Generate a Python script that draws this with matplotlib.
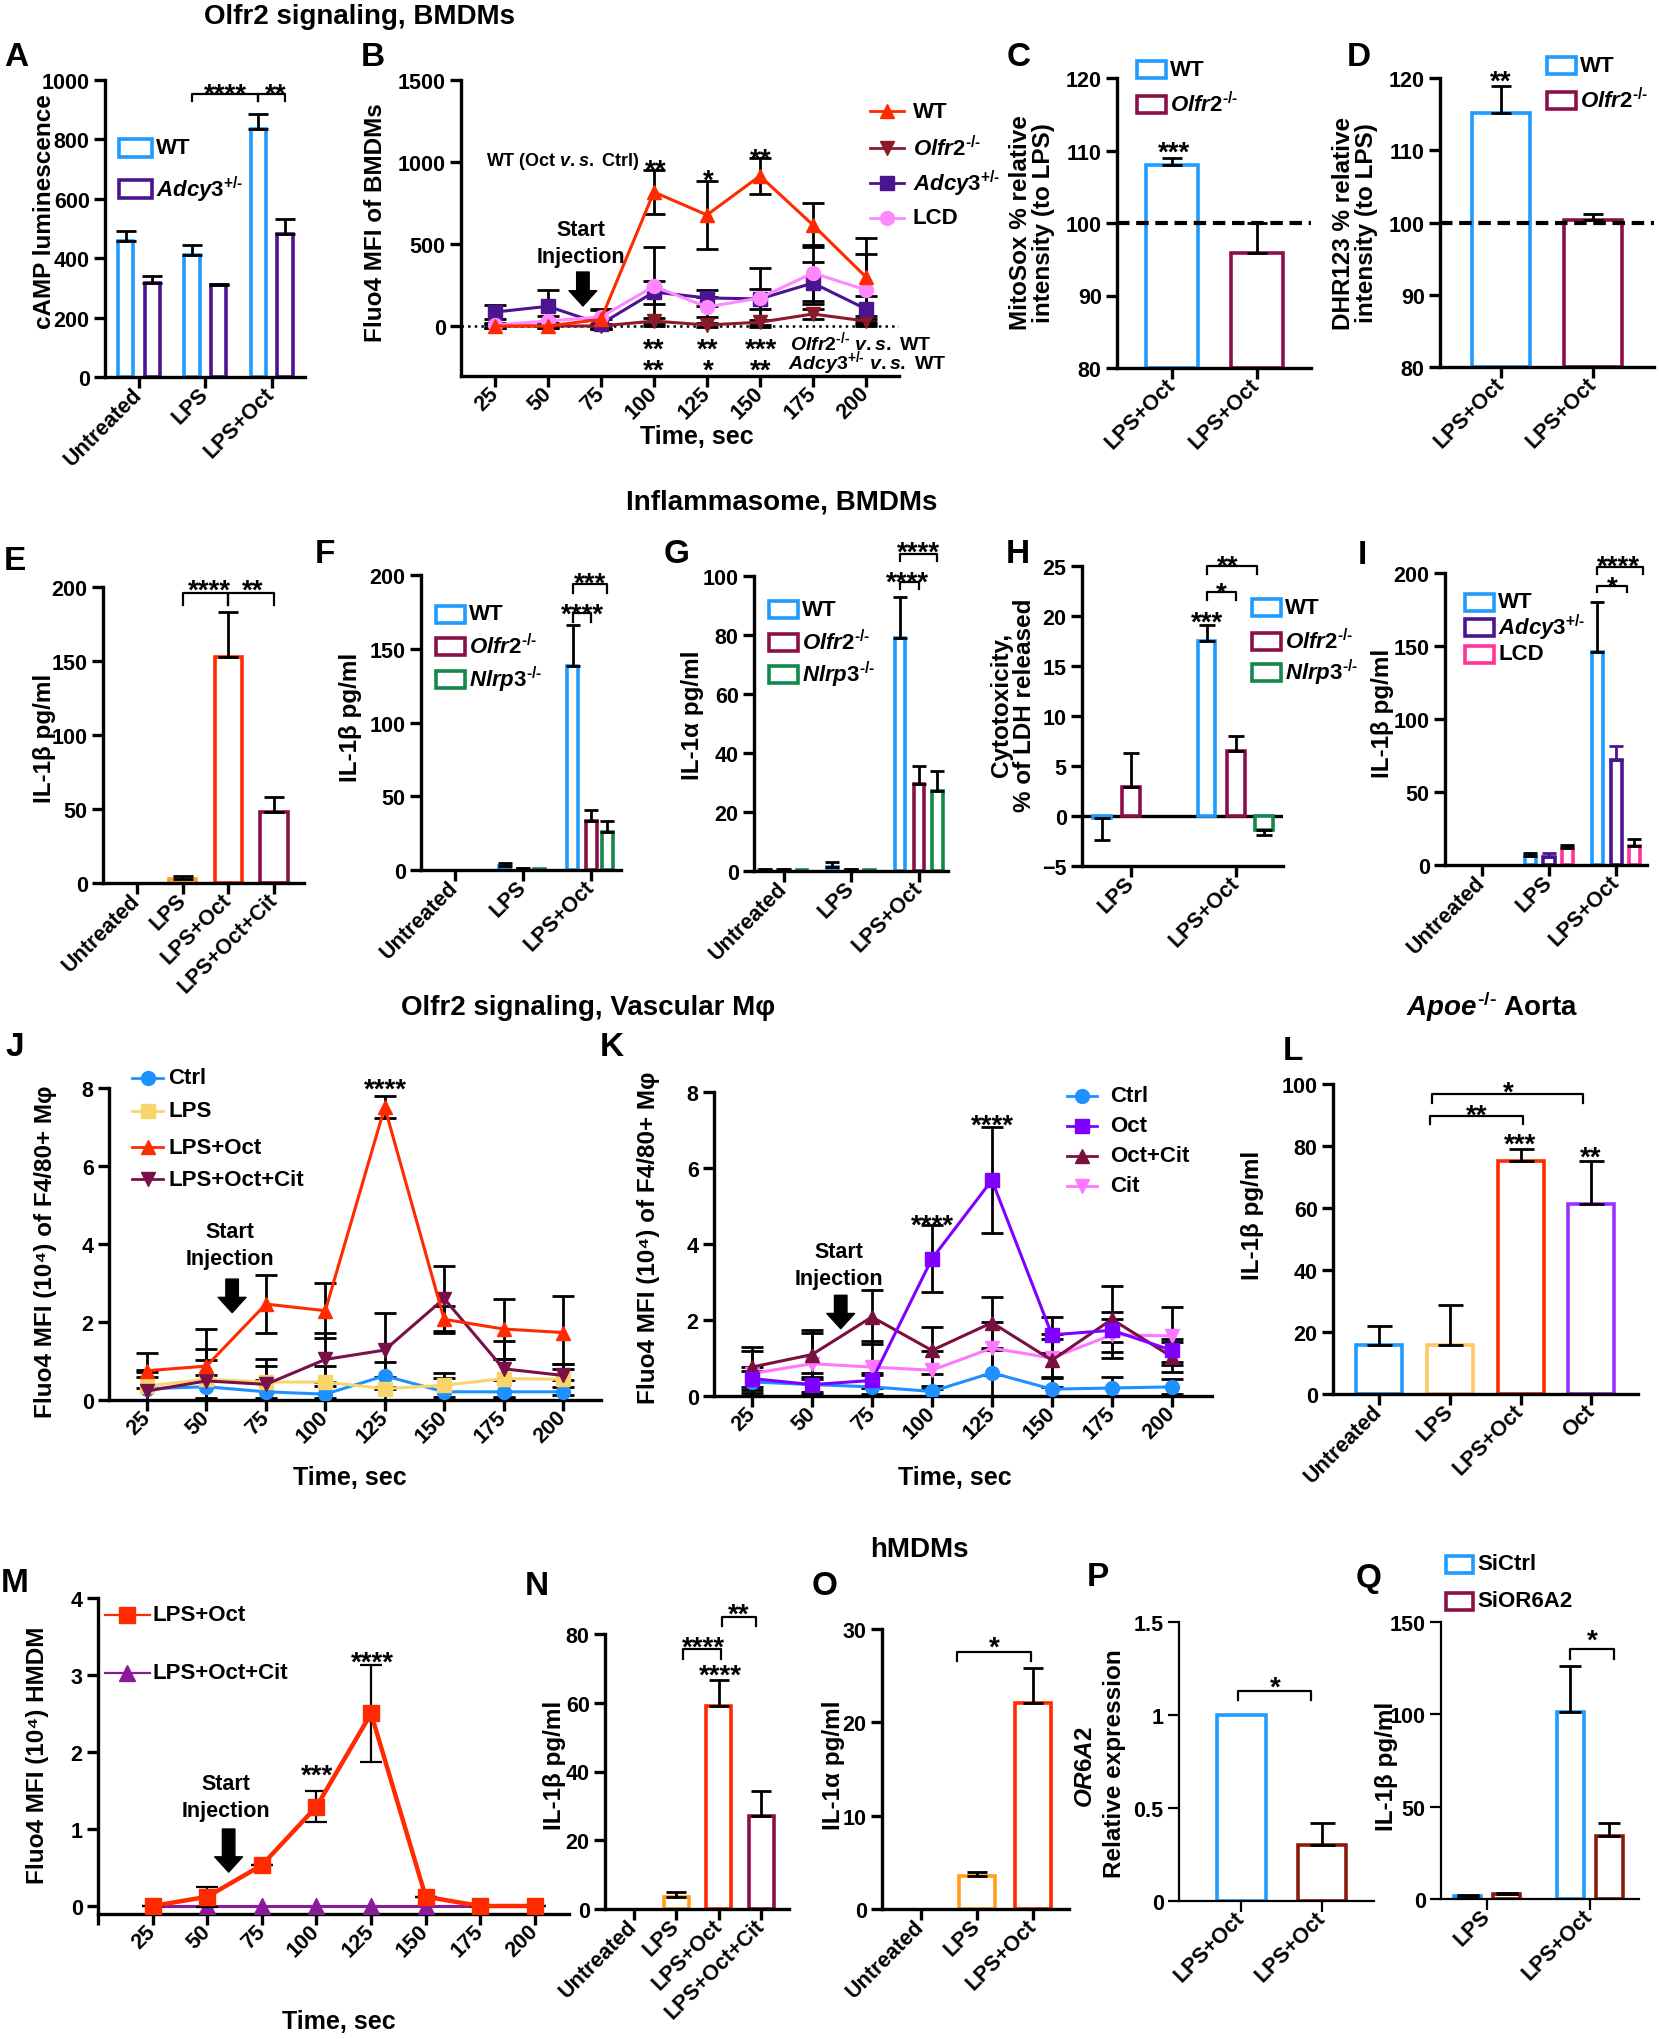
#!/usr/bin/env python3
"""Olfr2 signalling / inflammasome multi-panel figure, rebuilt with matplotlib."""
import matplotlib
import matplotlib.pyplot as plt
from matplotlib.lines import Line2D
from matplotlib.patches import Rectangle

matplotlib.use("Agg")

W, H = 1659, 2040

plt.rcParams.update({
    "font.family": ["Liberation Sans", "DejaVu Sans"],
    "font.weight": "bold",
    "axes.labelweight": "bold",
    "mathtext.fontset": "custom",
    "mathtext.rm": "Liberation Sans:bold",
    "mathtext.it": "Liberation Sans:italic:bold",
    "mathtext.bf": "Liberation Sans:bold",
    "mathtext.default": "regular",
})

# ---------------- data ----------------
TIME = [25, 50, 75, 100, 125, 150, 175, 200]

# A: cAMP luminescence
a_groups = ["Untreated", "LPS", "LPS+Oct"]
a_wt = [458, 411, 835]
a_wt_err = [33, 33, 51]
a_adcy3 = [316, 310, 481]
a_adcy3_err = [24, 4, 51]

# B: Fluo4 MFI of BMDMs
b_wt = [0, 0, 40, 817, 677, 915, 616, 299]
b_wt_err = [15, 15, 60, 134, 207, 109, 134, 238]
b_olfr2 = [0, 0, 0, 30, 6, 23, 73, 30]
b_olfr2_err = [10, 10, 10, 20, 15, 15, 30, 15]
b_adcy3 = [85, 120, 12, 207, 171, 165, 262, 104]
b_adcy3_err = [40, 100, 30, 70, 50, 60, 130, 80]
b_lcd = [6, 30, 55, 242, 116, 171, 323, 220]
b_lcd_err = [10, 30, 50, 240, 60, 180, 170, 220]

# C, D: MitoSox / DHR123 relative to LPS
c_vals = [108.0, 95.8]
c_errs = [1.0, 4.2]
d_vals = [115.2, 100.3]
d_errs = [3.7, 0.9]

# E: IL-1b, BMDMs
e_groups = ["Untreated", "LPS", "LPS+Oct", "LPS+Oct+Cit"]
e_vals = [0, 2.5, 153, 48]
e_errs = [0, 2.5, 30, 10]

# F: IL-1b by genotype
f_wt = [0, 3, 138]
f_wt_err = [0, 2, 28]
f_olfr2 = [0, 1, 33]
f_olfr2_err = [0, 0.5, 8]
f_nlrp3 = [0, 0.5, 26]
f_nlrp3_err = [0, 0, 7]

# G: IL-1a by genotype
g_wt = [0.5, 1.5, 79]
g_wt_err = [0.3, 1.5, 14]
g_olfr2 = [0.5, 0.5, 29.5]
g_olfr2_err = [0.3, 0.3, 6]
g_nlrp3 = [0.3, 0.3, 27]
g_nlrp3_err = [0, 0, 7]

# H: LDH cytotoxicity
h_groups = ["LPS", "LPS+Oct"]
h_wt = [-0.2, 17.5]
h_wt_err = [2.2, 1.6]
h_olfr2 = [2.9, 6.5]
h_olfr2_err = [3.4, 1.5]
h_nlrp3 = [0, -1.4]
h_nlrp3_err = [0, 0.5]

# I: IL-1b WT / Adcy3 / LCD
i_wt = [0, 6.2, 146]
i_wt_err = [0, 2.3, 34]
i_adcy3 = [0, 5.5, 72]
i_adcy3_err = [0, 2.5, 9.5]
i_lcd = [0, 11.4, 13]
i_lcd_err = [0, 2.6, 4.8]

# J: vascular macrophages
j_ctrl = [0.29, 0.34, 0.21, 0.15, 0.62, 0.21, 0.21, 0.21]
j_ctrl_err = [0.3, 0.3, 0.3, 0.3, 0.35, 0.35, 0.3, 0.3]
j_lps = [0.36, 0.53, 0.46, 0.46, 0.29, 0.38, 0.55, 0.53]
j_lps_err = [0.4, 0.5, 0.4, 0.4, 0.3, 0.3, 0.5, 0.4]
j_lpsoct = [0.75, 0.87, 2.46, 2.29, 7.51, 2.07, 1.82, 1.73]
j_lpsoct_err = [0.45, 0.96, 0.74, 0.7, 0.28, 0.35, 0.78, 0.94]
j_cit = [0.23, 0.49, 0.40, 1.04, 1.28, 2.60, 0.80, 0.63]
j_cit_err = [0.5, 0.83, 0.64, 0.67, 0.95, 0.83, 0.72, 0.3]

# K: vascular macrophages, Oct alone
k_ctrl = [0.37, 0.30, 0.24, 0.12, 0.61, 0.18, 0.21, 0.24]
k_ctrl_err = [0.3, 0.3, 0.3, 0.15, 0.6, 0.3, 0.3, 0.2]
k_oct = [0.46, 0.30, 0.41, 3.61, 5.68, 1.61, 1.73, 1.20]
k_oct_err = [0.3, 0.2, 0.2, 0.88, 1.4, 0.47, 0.3, 0.3]
k_octcit = [0.76, 1.09, 2.08, 1.20, 1.93, 0.94, 2.02, 1.03]
k_octcit_err = [0.53, 0.64, 0.7, 0.62, 0.67, 0.7, 0.87, 0.4]
k_cit = [0.59, 0.85, 0.76, 0.68, 1.26, 1.00, 1.61, 1.58]
k_cit_err = [0.6, 0.8, 0.7, 0.5, 0.7, 0.5, 0.6, 0.76]

# L: Apoe-/- aorta
l_groups = ["Untreated", "LPS", "LPS+Oct", "Oct"]
l_vals = [15.8, 15.8, 75.3, 61.3]
l_errs = [6.0, 12.9, 3.7, 14.0]

# M: human MDMs
m_lpsoct = [0, 0.12, 0.53, 1.29, 2.5, 0.12, 0, 0]
m_lpsoct_err = [0, 0.13, 0, 0.2, 0.63, 0, 0, 0]
m_cit = [0, 0, 0, 0, 0, 0, 0, 0]

# N, O: hMDM cytokines
n_vals = [0, 3.4, 59.2, 27.2]
n_errs = [0, 1.6, 7.4, 7.2]
o_groups = ["Untreated", "LPS", "LPS+Oct"]
o_vals = [0, 3.5, 22.1]
o_errs = [0, 0.5, 3.7]

# P: OR6A2 knockdown, Q: IL-1b after knockdown
p_vals = [1.0, 0.3]
p_errs = [0, 0.12]
q_groups = ["LPS", "LPS+Oct"]
q_sictrl = [1.8, 101]
q_sictrl_err = [0.5, 25]
q_sior = [2.5, 34]
q_sior_err = [0.5, 7.2]

# ---------------- styling ----------------
BLUE = "#1E9BFF"
PURPLE = "#4B1490"
MAROON = "#8B1048"
GREEN = "#14884A"
PINK = "#FF3399"
ORANGE = "#FF9F1C"
RED = "#FF2A00"
LIGHT_ORANGE = "#FFC864"
VIOLET = "#9B30FF"
DARK_RED = "#8C1A0A"

SPINE = 2.4
BAR_LW = 2.6
TICK = 15.5
YLAB = 17.5
HY = "\u2010"  # plain hyphen, so superscripts stay narrow
KO = "^{" + HY + "/" + HY + "}"
HET = "^{+/" + HY + "}"
OLFR2 = "$\\mathit{Olfr2}" + KO + "$"
ADCY3 = "$\\mathit{Adcy3}" + HET + "$"
NLRP3 = "$\\mathit{Nlrp3}" + KO + "$"
APOE = "$\\mathit{Apoe}" + KO + "$"

fig = plt.figure(figsize=(W / 100, H / 100), dpi=100)


def ftext(x, y, s, size=15, ha="center", va="center", **kw):
    fig.text(x / W, 1 - y / H, s, fontsize=size, ha=ha, va=va, **kw)


def stars(x, y, s, size=20):
    # asterisks sit high in the line box; shift so their ink centres on y
    ftext(x, y + 0.31 * size * 100 / 72, s, size=size)


def letter(x, y, s):
    ftext(x, y, s, size=24)


def ylab(x, y, s, size=YLAB, **kw):
    ftext(x, y, s, size=size, rotation=90, linespacing=1.0, **kw)


def key_box(x, y, color, label, w=29, h=17):
    fig.add_artist(Rectangle((x / W, 1 - (y + h / 2) / H), w / W, h / H,
                             transform=fig.transFigure, facecolor="white",
                             edgecolor=color, linewidth=2.6))
    ftext(x + w + 4, y, label, size=16, ha="left")


def key_line(x0, x1, y, color, marker, label, tx, lw=2.0, ms=10):
    fig.add_artist(Line2D([x0 / W, x1 / W], [1 - y / H, 1 - y / H],
                          transform=fig.transFigure, color=color, lw=lw))
    fig.add_artist(Line2D([(x0 + x1) / 2 / W], [1 - y / H], transform=fig.transFigure,
                          color=color, marker=marker, ms=ms, lw=0))
    ftext(tx, y, label, size=16, ha="left")


def make_ax(x0, x1, ytop, ybot, xlim, ylim, spine=SPINE):
    ax = fig.add_axes([x0 / W, 1 - ybot / H, (x1 - x0) / W, (ybot - ytop) / H])
    ax.set_xlim(*xlim)
    ax.set_ylim(*ylim)
    ax.spines[["top", "right"]].set_visible(False)
    ax.spines[["left", "bottom"]].set_linewidth(spine)
    ax.tick_params(width=spine, length=8, labelsize=TICK, pad=3)
    ax.tick_params(axis="x", pad=2)
    ax.patch.set_visible(False)
    return ax


def xlabels(ax, ticks, labels):
    ax.set_xticks(ticks)
    ax.set_xticklabels(labels, rotation=45, ha="right", va="center",
                       rotation_mode="anchor")


def bars(ax, xs, vals, errs, colors, width, bottom=0, ecolor="k", cap=7):
    for x, v, e, c in zip(xs, vals, errs, colors):
        if v == 0:
            continue
        ax.bar(x, v - bottom, width, bottom=bottom, facecolor="white", edgecolor=c,
               linewidth=BAR_LW, zorder=2)
        if e:
            yerr = [[0], [e]] if v >= 0 else [[e], [0]]
            ax.errorbar(x, v, yerr=yerr, fmt="none", ecolor=ecolor, elinewidth=2.0,
                        capsize=cap, capthick=2.0, zorder=3)


def bracket(ax, x1, x2, y, drop, lw=1.6):
    ax.plot([x1, x1, x2, x2], [y - drop, y, y, y - drop], color="k", lw=lw,
            clip_on=False, zorder=4)


def series(ax, y, err, color, marker, lw=2.2, ms=10):
    ax.errorbar(TIME, y, yerr=err, color=color, marker=marker, ms=ms, lw=lw,
                mec=color, mfc=color, ecolor="k", elinewidth=2.0, capsize=8,
                capthick=2.0, zorder=3)


def inject_arrow(ax, x, y0, y1):
    ax.annotate("", xy=(x, y1), xytext=(x, y0),
                arrowprops=dict(facecolor="k", edgecolor="k", width=9,
                                headwidth=20, headlength=11, shrink=0))


# ================= Row 1: Olfr2 signalling, BMDMs =================
ftext(359, 17, "Olfr2 signaling, BMDMs", size=20)

# A
ax = make_ax(105, 305, 81, 378, (-0.51, 2.5), (0, 1000))
ax.set_yticks(range(0, 1001, 200))
bars(ax, [g - 0.2 for g in range(3)], a_wt, a_wt_err, [BLUE] * 3, 0.23)
bars(ax, [g + 0.2 for g in range(3)], a_adcy3, a_adcy3_err, [PURPLE] * 3, 0.23)
xlabels(ax, range(3), a_groups)
bracket(ax, 0.8, 1.8, 953, 24)
bracket(ax, 1.8, 2.2, 953, 24)
stars(225, 87, "****")
stars(276, 87, "**")
key_box(119, 149, BLUE, "WT", w=33, h=18)
key_box(119, 190, PURPLE, ADCY3, w=33, h=18)
ylab(45, 212, "cAMP luminescence")
letter(16, 58, "A")

# B
ax = make_ax(461, 899, 81, 377, (9, 215.6), (-305, 1500))
ax.set_yticks([0, 500, 1000, 1500])
xlabels(ax, TIME, [str(t) for t in TIME])
ax.axhline(0, color="k", ls=":", lw=1.8, zorder=1)
series(ax, b_olfr2, b_olfr2_err, "#8B1A2A", "v")
series(ax, b_adcy3, b_adcy3_err, PURPLE, "s")
series(ax, b_lcd, b_lcd_err, "#FF88FF", "o")
series(ax, b_wt, b_wt_err, RED, "^")
inject_arrow(ax, 66.5, 329, 122)
ftext(486, 162, r"WT (Oct $\mathit{v.s.}$ Ctrl)", size=13, ha="left")
stars(656, 163, "**")
stars(708, 173, "*")
stars(761, 152, "**")
for x, s1, s2 in [(654, "**", "**"), (708, "**", "*"), (761, "***", "**")]:
    stars(x, 342, s1)
    stars(x, 363, s2)
ftext(790, 342, OLFR2 + r" $\mathit{v.s.}$ WT", size=14, ha="left")
ftext(788, 363, ADCY3 + r" $\mathit{v.s.}$ WT", size=14, ha="left")
ftext(581, 230, "Start", size=15.5)
ftext(581, 258, "Injection", size=15.5)
key_line(870, 904, 112, RED, "^", "WT", 913)
key_line(870, 904, 149, "#8B1A2A", "v", OLFR2, 913)
key_line(870, 904, 184, PURPLE, "s", ADCY3, 913)
key_line(870, 904, 219, "#FF88FF", "o", "LCD", 913)
ylab(375, 223, "Fluo4 MFI of BMDMs")
ftext(697, 437, "Time, sec", size=18)
letter(373, 58, "B")

# C
ax = make_ax(1117, 1311, 79, 369, (-0.65, 1.64), (80, 120))
ax.set_yticks(range(80, 121, 10))
bars(ax, [0, 1], c_vals, c_errs, [BLUE, MAROON], 0.62, bottom=80)
ax.axhline(100, color="k", ls="--", lw=3, dashes=(3, 1.6), zorder=4)
xlabels(ax, [0, 1], ["LPS+Oct", "LPS+Oct"])
stars(1174, 145, "***")
key_box(1137, 70, BLUE, "WT")
key_box(1137, 105, MAROON, OLFR2)
ylab(1032, 223, "MitoSox % relative\nintensity (to LPS)")
letter(1019, 57, "C")

# D
ax = make_ax(1440, 1654, 79, 368, (-0.66, 1.66), (80, 120))
ax.set_yticks(range(80, 121, 10))
bars(ax, [0, 1], d_vals, d_errs, [BLUE, MAROON], 0.63, bottom=80)
ax.axhline(100, color="k", ls="--", lw=3, dashes=(3, 1.6), zorder=4)
xlabels(ax, [0, 1], ["LPS+Oct", "LPS+Oct"])
stars(1501, 74, "**")
key_box(1547, 66, BLUE, "WT")
key_box(1547, 101, MAROON, OLFR2)
ylab(1355, 223, "DHR123 % relative\nintensity (to LPS)")
letter(1359, 57, "D")

# ================= Row 2: Inflammasome, BMDMs =================
ftext(782, 503, "Inflammasome, BMDMs", size=20)

# E
ax = make_ax(103, 304, 588, 884, (-0.75, 3.66), (0, 200))
ax.set_yticks(range(0, 201, 50))
bars(ax, range(4), e_vals, e_errs, [BLUE, ORANGE, RED, MAROON], 0.6)
xlabels(ax, range(4), e_groups)
bracket(ax, 1, 2, 196, 8)
bracket(ax, 2, 3, 196, 8)
stars(209, 583, "****")
stars(253, 583, "**")
ylab(44, 738, "IL-1β pg/ml")
letter(15, 562, "E")

# F
ax = make_ax(421, 621, 576, 871, (-0.5, 2.44), (0, 200))
ax.set_yticks(range(0, 201, 50))
bars(ax, [g - 0.27 for g in range(3)], f_wt, f_wt_err, [BLUE] * 3, 0.16, cap=5)
bars(ax, list(range(3)), f_olfr2, f_olfr2_err, [MAROON] * 3, 0.16, cap=5)
bars(ax, [g + 0.24 for g in range(3)], f_nlrp3, f_nlrp3_err, [GREEN] * 3, 0.16, cap=5)
xlabels(ax, range(3), a_groups)
bracket(ax, 1.73, 2.0, 174, 6)
bracket(ax, 1.73, 2.24, 194, 6)
stars(582, 607, "****")
stars(590, 576, "***")
key_box(436, 615, BLUE, "WT")
key_box(436, 647, MAROON, OLFR2)
key_box(436, 680, GREEN, NLRP3)
ylab(350, 717, "IL-1β pg/ml")
letter(325, 555, "F")

# G
ax = make_ax(754, 948, 577, 872, (-0.44, 2.43), (0, 100))
ax.set_yticks(range(0, 101, 20))
bars(ax, [g - 0.28 for g in range(3)], g_wt, g_wt_err, [BLUE] * 3, 0.16, cap=5)
bars(ax, list(range(3)), g_olfr2, g_olfr2_err, [MAROON] * 3, 0.16, cap=5)
bars(ax, [g + 0.27 for g in range(3)], g_nlrp3, g_nlrp3_err, [GREEN] * 3, 0.16, cap=5)
xlabels(ax, range(3), a_groups)
bracket(ax, 1.72, 2.0, 98, 2.3)
bracket(ax, 1.72, 2.27, 107.5, 2.3)
stars(907, 575, "****")
stars(918, 545, "****")
key_box(769, 610, BLUE, "WT")
key_box(769, 643, MAROON, OLFR2)
key_box(769, 675, GREEN, NLRP3)
ylab(693, 715, "IL-1α pg/ml")
letter(677, 555, "G")

# H
ax = make_ax(1082, 1283, 567, 867, (-0.47, 1.45), (-5, 25))
ax.set_yticks(range(-5, 26, 5))
ax.axhline(0, color="k", lw=SPINE, zorder=1)
bars(ax, [g - 0.28 for g in range(2)], h_wt, h_wt_err, [BLUE] * 2, 0.17, cap=6)
bars(ax, list(range(2)), h_olfr2, h_olfr2_err, [MAROON] * 2, 0.17, cap=6)
bars(ax, [g + 0.27 for g in range(2)], h_nlrp3, h_nlrp3_err, [GREEN] * 2, 0.17, cap=6)
xlabels(ax, range(2), h_groups)
bracket(ax, 0.72, 1.0, 22.4, 0.8)
bracket(ax, 0.72, 1.2, 25.0, 0.8)
stars(1221, 586, "*")
stars(1228, 559, "**")
stars(1207, 615, "***")
key_box(1252, 608, BLUE, "WT")
key_box(1252, 642, MAROON, OLFR2)
key_box(1252, 673, GREEN, NLRP3)
ylab(1013, 705, "Cytotoxicity,\n% of LDH released")
letter(1018, 555, "H")

# I
ax = make_ax(1445, 1647, 574, 866, (-0.55, 2.46), (0, 200))
ax.set_yticks(range(0, 201, 50))
bars(ax, [g - 0.28 for g in range(3)], i_wt, i_wt_err, [BLUE] * 3, 0.165, cap=5)
bars(ax, list(range(3)), i_adcy3, i_adcy3_err, [PURPLE] * 3, 0.165, ecolor=PURPLE, cap=5)
bars(ax, [g + 0.27 for g in range(3)], i_lcd, i_lcd_err, [PINK] * 3, 0.165, cap=5)
xlabels(ax, range(3), a_groups)
bracket(ax, 1.72, 2.16, 191, 4)
bracket(ax, 1.72, 2.40, 204, 5)
stars(1612, 580, "*")
stars(1618, 559, "****")
key_box(1465, 603, BLUE, "WT")
key_box(1465, 628, PURPLE, ADCY3)
key_box(1465, 655, PINK, "LCD")
ylab(1383, 713, "IL-1β pg/ml")
letter(1362, 556, "I")

# ================= Row 3: vascular macrophages =================
ftext(588, 1008, "Olfr2 signaling, Vascular Mφ", size=20)
ftext(1492, 1007, APOE + " Aorta", size=20)

# J
ax = make_ax(109, 601, 1089, 1401, (9, 216), (0, 8))
ax.set_yticks(range(0, 9, 2))
xlabels(ax, TIME, [str(t) for t in TIME])
series(ax, j_ctrl, j_ctrl_err, "#1E90FF", "o")
series(ax, j_lps, j_lps_err, "#F7D56A", "s")
series(ax, j_cit, j_cit_err, "#7A1048", "v")
series(ax, j_lpsoct, j_lpsoct_err, RED, "^")
inject_arrow(ax, 60.8, 3.1, 2.24)
stars(385, 1082, "****")
ftext(230, 1233, "Start", size=15.5)
ftext(230, 1260, "Injection", size=15.5)
key_line(132, 163, 1079, "#1E90FF", "o", "Ctrl", 168)
key_line(132, 163, 1112, "#F7D56A", "s", "LPS", 168)
key_line(132, 163, 1148, RED, "^", "LPS+Oct", 168)
key_line(132, 163, 1180, "#7A1048", "v", "LPS+Oct+Cit", 168)
ylab(46, 1252, "Fluo4 MFI (10⁴) of F4/80+ Mφ")
ftext(350, 1478, "Time, sec", size=18)
letter(15, 1048, "J")

# K
ax = make_ax(714, 1212, 1093, 1397, (9.2, 216.7), (0, 8))
ax.set_yticks(range(0, 9, 2))
xlabels(ax, TIME, [str(t) for t in TIME])
series(ax, k_ctrl, k_ctrl_err, "#1E90FF", "o")
series(ax, k_cit, k_cit_err, "#FF77FF", "v")
series(ax, k_octcit, k_octcit_err, "#7A1040", "^")
series(ax, k_oct, k_oct_err, "#7F00FF", "s")
inject_arrow(ax, 62, 2.65, 1.77)
stars(932, 1218, "****")
stars(992, 1118, "****")
ftext(839, 1253, "Start", size=15.5)
ftext(839, 1280, "Injection", size=15.5)
key_line(1067, 1097, 1097, "#1E90FF", "o", "Ctrl", 1110)
key_line(1067, 1097, 1127, "#7F00FF", "s", "Oct", 1110)
key_line(1067, 1097, 1157, "#7A1040", "^", "Oct+Cit", 1110)
key_line(1067, 1097, 1187, "#FF77FF", "v", "Cit", 1110)
ylab(648, 1238, "Fluo4 MFI (10⁴) of F4/80+ Mφ")
ftext(955, 1478, "Time, sec", size=18)
letter(612, 1048, "K")

# L
ax = make_ax(1333, 1638, 1085, 1395, (-0.65, 3.66), (0, 100))
ax.set_yticks(range(0, 101, 20))
bars(ax, range(4), l_vals, l_errs, [BLUE, LIGHT_ORANGE, RED, VIOLET], 0.65, cap=9)
xlabels(ax, range(4), l_groups)
bracket(ax, 0.72, 2.03, 89.8, 2.8)
bracket(ax, 0.75, 2.88, 96.8, 2.8)
stars(1477, 1108, "**")
stars(1508, 1085, "*")
stars(1520, 1137, "***")
stars(1591, 1150, "**")
ylab(1252, 1215, "IL-1β pg/ml")
letter(1293, 1052, "L")

# ================= Row 4: hMDMs =================
ftext(919, 1550, "hMDMs", size=20)

# M
ax = make_ax(98, 569, 1599, 1915, (0, 215.6), (-0.104, 4))
ax.set_yticks(range(0, 5))
xlabels(ax, [0] + TIME, [""] + [str(t) for t in TIME])
ax.plot(TIME, m_cit, color="#8B1A9B", marker="^", ms=11, lw=2.2, zorder=3)
ax.errorbar(TIME, m_lpsoct, yerr=m_lpsoct_err, color=RED, marker="s", ms=12, lw=3.2,
            ecolor="k", elinewidth=1.6, capsize=8, capthick=1.6, zorder=4)
inject_arrow(ax, 59.8, 1.0, 0.44)
stars(372, 1655, "****")
stars(317, 1768, "***")
ftext(226, 1785, "Start", size=15.5)
ftext(226, 1812, "Injection", size=15.5)
key_line(105, 150, 1616, RED, "s", "LPS+Oct", 153, lw=1.6, ms=12)
key_line(105, 150, 1674, "#8B1A9B", "^", "LPS+Oct+Cit", 153, lw=1.6, ms=11)
ylab(38, 1755, "Fluo4 MFI (10⁴) HMDM")
ftext(339, 2022, "Time, sec", size=18)
letter(15, 1583, "M")

# N
ax = make_ax(605, 789, 1635, 1910, (-0.68, 3.65), (0, 80))
ax.set_yticks(range(0, 81, 20))
bars(ax, range(4), n_vals, n_errs, [BLUE, ORANGE, RED, MAROON], 0.59)
xlabels(ax, range(4), e_groups)
bracket(ax, 1.15, 2.05, 75.6, 2.9)
bracket(ax, 2.07, 2.87, 85.0, 2.7)
stars(703, 1640, "****")
stars(739, 1607, "**")
stars(720, 1668, "****")
ylab(555, 1765, "IL-1β pg/ml")
letter(537, 1587, "N")

# O
ax = make_ax(882, 1069, 1630, 1910, (-0.7, 2.64), (0, 30))
ax.set_yticks(range(0, 31, 10))
bars(ax, range(3), o_vals, o_errs, [BLUE, ORANGE, RED], 0.64)
xlabels(ax, range(3), o_groups)
bracket(ax, 0.64, 1.96, 27.5, 0.9)
stars(994, 1640, "*")
ylab(834, 1765, "IL-1α pg/ml")
letter(825, 1587, "O")

# P
ax = make_ax(1179, 1374, 1623, 1902, (-0.77, 1.64), (0, 1.5), spine=1.6)
ax.set_yticks([0, 0.5, 1, 1.5])
ax.set_yticklabels(["0", "0.5", "1", "1.5"])
bars(ax, [0, 1], p_vals, p_errs, [BLUE, DARK_RED], 0.6, cap=9)
xlabels(ax, [0, 1], ["LPS+Oct", "LPS+Oct"])
bracket(ax, -0.04, 0.86, 1.13, 0.05)
stars(1275, 1680, "*")
ftext(1085, 1767, r"$\mathit{OR6A2}$", size=YLAB, rotation=90)
ftext(1115, 1764, "Relative expression", size=YLAB, rotation=90)
letter(1098, 1577, "P")

# Q
ax = make_ax(1441, 1639, 1623, 1900, (-0.45, 1.48), (0, 150), spine=1.6)
ax.set_yticks(range(0, 151, 50))
bars(ax, [g - 0.19 for g in range(2)], q_sictrl, q_sictrl_err, [BLUE] * 2, 0.26, cap=8)
bars(ax, [g + 0.19 for g in range(2)], q_sior, q_sior_err, [DARK_RED] * 2, 0.26, cap=8)
xlabels(ax, range(2), q_groups)
bracket(ax, 0.81, 1.24, 135.5, 5.5)
stars(1592, 1633, "*")
key_box(1446, 1565, BLUE, "SiCtrl", w=27)
key_box(1446, 1602, MAROON, "SiOR6A2", w=27)
ylab(1386, 1766, "IL-1β pg/ml")
letter(1369, 1578, "Q")

fig.savefig("out.png", dpi=100)
plt.close(fig)
